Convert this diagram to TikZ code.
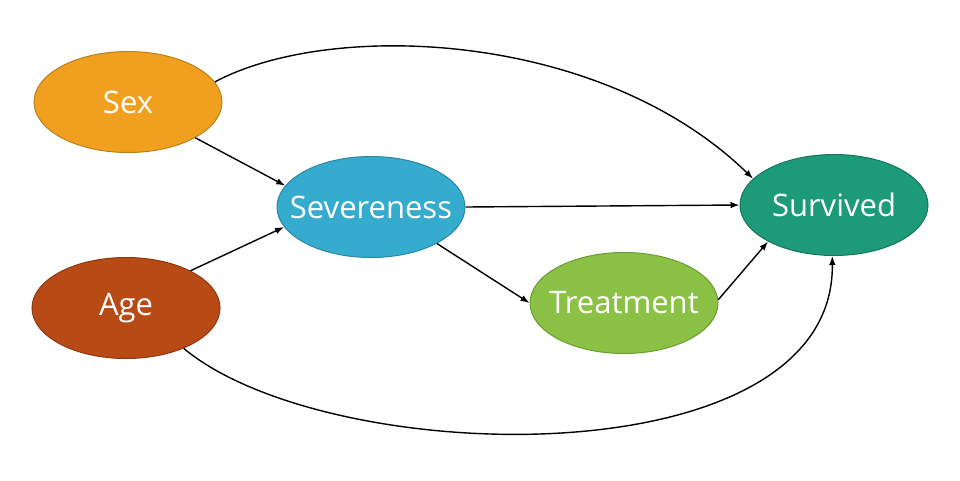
\documentclass[tikz,border=0pt]{standalone}
\usepackage{fontspec}
\setmainfont{Open Sans}
\usetikzlibrary{shapes.geometric,arrows.meta}
\definecolor{sexc}{HTML}{F0A01E}\definecolor{sexb}{HTML}{B98119}
\definecolor{agec}{HTML}{B84A16}\definecolor{ageb}{HTML}{8C3811}
\definecolor{sevc}{HTML}{35ACCD}\definecolor{sevb}{HTML}{2A88A3}
\definecolor{trec}{HTML}{8BC145}\definecolor{treb}{HTML}{6C9A33}
\definecolor{surc}{HTML}{1D9A78}\definecolor{surb}{HTML}{15765C}
\tikzset{
  var/.style={ellipse, draw, line width=1pt, minimum width=188pt, minimum height=101pt,
    inner xsep=-20pt, inner ysep=0pt, text=white, font=\fontsize{31}{33}\selectfont},
  arr/.style={line width=1.4pt, -{Latex[length=9pt,width=6.5pt]}}
}
\begin{document}
\begin{tikzpicture}[x=1pt,y=-1pt]
\useasboundingbox (0,0) rectangle (960,480);
\fill[white] (0,0) rectangle (960,480);
\node[var, fill=sexc, draw=sexb] (sex) at (128,102) {Sex};
\node[var, fill=agec, draw=ageb] (age) at (126,308) {Age};
\node[var, fill=sevc, draw=sevb] (sev) at (371,207) {Severeness};
\node[var, fill=trec, draw=treb] (tre) at (624,303) {Treatment};
\node[var, fill=surc, draw=surb] (sur) at (834,205) {Survived};
\draw[arr] (sex.13) .. controls (330,20) and (600,30) .. (sur.162);
\draw[arr] (sex.-28) -- (sev.166);
\draw[arr] (age.30) -- (sev.193);
\draw[arr] (sev.0) -- (sur.180);
\draw[arr] (sev.-29) -- (tre.180);
\draw[arr] (tre.2) -- (sur.-151);
\draw[arr] (age.-35) .. controls (330,470) and (835,480) .. (sur.-92);
\end{tikzpicture}
\end{document}
